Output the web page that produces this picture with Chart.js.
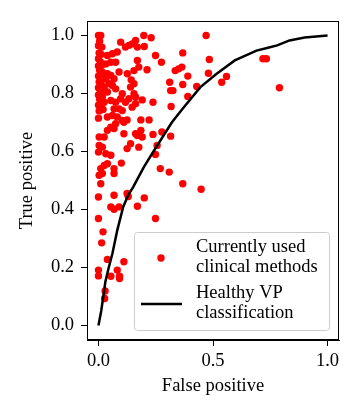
<!DOCTYPE html>
<html>
<head>
<meta charset="utf-8">
<script src="https://cdn.jsdelivr.net/npm/chart.js@4.4.0/dist/chart.umd.min.js"></script>
<style>
  html, body { margin: 0; padding: 0; background: #fff; }
  #roc { display: block; }
</style>
</head>
<body>
<canvas id="roc" width="346" height="415"></canvas>
<script>
// Clinical methods: false positive / true positive rates
const clinicalFP = [
  0, 0.01, 0.005, 0, 0.015, 0.003, 0.012, 0, 0.008, 0.018, 0, 0.005, 0.015, 0, 0.01, 0.02,
  0.003, 0.012, 0, 0.008, 0.018, 0, 0.005, 0.015, 0, 0.01, 0.02, 0.003, 0,
  0.097, 0.118, 0.147, 0.162, 0.17, 0.133, 0.082, 0.061, 0.039, 0.075, 0.054, 0.032, 0.09,
  0.039, 0.054, 0.068, 0.032, 0.046, 0.061, 0.025, 0.075, 0.039, 0.104, 0.097, 0.017, 0.054,
  0.075, 0.025, 0.118, 0.133, 0.147, 0.162, 0.09, 0.068, 0.104, 0.061, 0.039, 0.082, 0.104,
  0.125, 0.111, 0.075, 0.054, 0.068, 0.039, 0.025, 0.003, 0.111, 0.162, 0.17, 0.191, 0.185,
  0.125, 0.14, 0.176, 0.003, 0.017, 0, 0.032, 0.054, 0.025, 0.039, 0.01, 0.003, 0.017, 0.068,
  0.068, 0.01, 0.1, 0, 0.068, 0.125, 0.13, 0.054, 0.068, 0.09, 0.17, 0.2, 0, 0.02, 0.014,
  0.039, 0.111, 0, 0, 0.054, 0.082, 0.092, 0.092, 0.029, 0.027,
  0.198, 0.23, 0.2, 0.249, 0.275, 0.212, 0.176, 0.155, 0.17, 0.126, 0.143, 0.155, 0.14, 0.155,
  0.162, 0.368, 0.335, 0.35, 0.364, 0.39, 0.311, 0.368, 0.315, 0.325, 0.429, 0.47, 0.484,
  0.48, 0.538, 0.559, 0.718, 0.733, 0.79, 0.39, 0.238, 0.317, 0.191, 0.185, 0.221, 0.238,
  0.277, 0.315, 0.256, 0.249, 0.27, 0.309, 0.368, 0.448, 0.249
];
const clinicalTP = [
  1.0, 1.0, 0.98, 0.965, 0.96, 0.94, 0.935, 0.92, 0.91, 0.9, 0.895, 0.88, 0.875, 0.86, 0.855, 0.85,
  0.84, 0.83, 0.82, 0.81, 0.8, 0.795, 0.78, 0.775, 0.76, 0.75, 0.745, 0.74, 0.715,
  0.977, 0.96, 0.971, 0.983, 0.96, 0.966, 0.943, 0.937, 0.931, 0.908, 0.908, 0.902, 0.874,
  0.868, 0.862, 0.851, 0.851, 0.834, 0.828, 0.822, 0.816, 0.805, 0.799, 0.782, 0.788, 0.776,
  0.77, 0.77, 0.77, 0.782, 0.753, 0.765, 0.747, 0.747, 0.741, 0.724, 0.719, 0.719, 0.707,
  0.709, 0.701, 0.696, 0.684, 0.679, 0.673, 0.65, 0.65, 0.661, 0.661, 0.655, 0.65, 0.673,
  0.61, 0.627, 0.615, 0.621, 0.615, 0.598, 0.592, 0.587, 0.552, 0.558, 0.541, 0.518, 0.524, 0.541,
  0.524, 0.489, 0.56, 0.443, 0.449, 0.455, 0.445, 0.409, 0.401, 0.409, 0.411, 0.44, 0.369, 0.323, 0.285,
  0.228, 0.22, 0.191, 0.171, 0.17, 0.191, 0.17, 0.162, 0.119, 0.093,
  1.0, 0.992, 0.962, 0.931, 0.908, 0.882, 0.891, 0.879, 0.914, 0.868, 0.847, 0.834, 0.822, 0.799,
  0.788, 0.94, 0.879, 0.885, 0.891, 0.86, 0.839, 0.831, 0.81, 0.81, 0.824, 1.0, 0.917,
  0.87, 0.839, 0.859, 0.92, 0.92, 0.82, 0.79, 0.77, 0.755, 0.778, 0.709, 0.709, 0.659,
  0.667, 0.653, 0.621, 0.59, 0.541, 0.529, 0.489, 0.47, 0.369
];

// Healthy VP classification ROC curve
const rocFP = [0, 0.012, 0.02, 0.03, 0.045, 0.061, 0.082, 0.108, 0.13, 0.152, 0.198, 0.24,
  0.32, 0.37, 0.445, 0.516, 0.595, 0.69, 0.74, 0.78, 0.834, 0.9, 1.0];
const rocTP = [0, 0.05, 0.093, 0.15, 0.2, 0.248, 0.328, 0.409, 0.45, 0.478, 0.546, 0.60,
  0.70, 0.75, 0.822, 0.868, 0.914, 0.948, 0.958, 0.966, 0.983, 0.993, 1.0];

const xTicks = [0.0, 0.5, 1.0];
const yTicks = [0.0, 0.2, 0.4, 0.6, 0.8, 1.0];

const seriesLabels = ['Currently used\nclinical methods', 'Healthy VP\nclassification'];

const FONT = 'Liberation Serif, Times New Roman, serif';
const FS = 18.5;

const toXY = (xs, ys) => xs.map((x, i) => ({ x: x, y: ys[i] }));

// box around the plot + matplotlib style legend
const framePlugin = {
  id: 'frame',
  afterDatasetsDraw(chart) {
    const { ctx, chartArea: a } = chart;
    ctx.save();
    ctx.strokeStyle = '#000';
    ctx.lineWidth = 1;
    ctx.strokeRect(a.left + 0.5, a.top + 0.5, a.right - a.left - 1, a.bottom - a.top - 1);

    // legend box
    const bx = a.left + 47, by = a.top + 211, bw = 195, bh = 98;
    ctx.beginPath();
    ctx.roundRect(bx + 0.5, by + 0.5, bw, bh, 3);
    ctx.fillStyle = 'rgba(255,255,255,0.8)';
    ctx.fill();
    ctx.strokeStyle = '#cccccc';
    ctx.stroke();

    ctx.fillStyle = '#ff0000';
    ctx.beginPath();
    ctx.arc(bx + 27, by + 26, 3.7, 0, Math.PI * 2);
    ctx.fill();

    ctx.strokeStyle = '#000';
    ctx.lineWidth = 2.5;
    ctx.beginPath();
    ctx.moveTo(bx + 7, by + 72);
    ctx.lineTo(bx + 48, by + 72);
    ctx.stroke();

    ctx.fillStyle = '#000';
    ctx.font = FS + 'px ' + FONT;
    ctx.textBaseline = 'alphabetic';
    ctx.textAlign = 'left';
    const l0 = seriesLabels[0].split('\n');
    const l1 = seriesLabels[1].split('\n');
    ctx.fillText(l0[0], bx + 62, by + 20);
    ctx.fillText(l0[1], bx + 62, by + 40);
    ctx.fillText(l1[0], bx + 62, by + 66);
    ctx.fillText(l1[1], bx + 62, by + 86);
    ctx.restore();
  }
};

new Chart(document.getElementById('roc').getContext('2d'), {
  type: 'scatter',
  data: {
    datasets: [{
      label: seriesLabels[1],
      data: toXY(rocFP, rocTP),
      showLine: true,
      borderColor: '#000',
      borderWidth: 2.5,
      pointRadius: 0,
      tension: 0,
      order: 0
    }, {
      label: seriesLabels[0],
      data: toXY(clinicalFP, clinicalTP),
      backgroundColor: '#ff0000',
      borderWidth: 0,
      pointRadius: 3.7,
      order: 1
    }]
  },
  options: {
    responsive: false,
    animation: false,
    layout: { padding: { top: 21, right: 7, left: 0, bottom: 0 } },
    plugins: {
      legend: { display: false },
      tooltip: { enabled: false }
    },
    scales: {
      x: {
        min: -0.05,
        max: 1.05,
        afterFit: s => { s.height = 75; },
        afterBuildTicks: s => { s.ticks = xTicks.map(v => ({ value: v })); },
        grid: { drawOnChartArea: false, color: '#000', tickLength: 6 },
        border: { color: '#000' },
        ticks: {
          color: '#000', padding: 4, maxRotation: 0,
          font: { family: FONT, size: FS },
          callback: v => v.toFixed(1)
        },
        title: {
          display: true, text: 'False positive', color: '#000',
          font: { family: FONT, size: FS }, padding: { top: 0, bottom: 18 }
        }
      },
      y: {
        min: -0.05,
        max: 1.05,
        afterFit: s => { s.width = 87; },
        afterBuildTicks: s => { s.ticks = yTicks.map(v => ({ value: v })); },
        grid: { drawOnChartArea: false, color: '#000', tickLength: 6 },
        border: { color: '#000' },
        ticks: {
          color: '#000', padding: 7,
          font: { family: FONT, size: FS },
          callback: v => v.toFixed(1)
        },
        title: {
          display: true, text: 'True positive', color: '#000',
          font: { family: FONT, size: FS }, padding: { top: 16, bottom: 0 }
        }
      }
    }
  },
  plugins: [framePlugin]
});
</script>
</body>
</html>
